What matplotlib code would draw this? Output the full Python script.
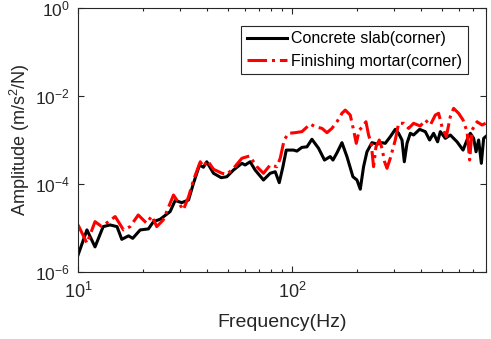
import numpy as np
import matplotlib
matplotlib.use("Agg")
import matplotlib.pyplot as plt
from matplotlib.ticker import LogLocator, NullLocator, LogFormatterMathtext

plt.rcParams['font.family'] = ['Liberation Sans', 'DejaVu Sans']
plt.rcParams['mathtext.fontset'] = 'custom'
plt.rcParams['mathtext.rm'] = 'Liberation Sans'
plt.rcParams['axes.unicode_minus'] = False

# Concrete slab (corner) - frequency (Hz) / amplitude (m/s^2/N)
slab_f = [10.0, 11.0, 12.0, 13.1, 14.1, 15.2, 16.0, 17.2, 18.0, 19.5, 21.3, 22.5,
          24.2, 26.9, 28.4, 30.5, 32.8, 34.6, 36.9, 38.5, 39.9, 42.9, 46.6, 49.5,
          53.2, 58.2, 60.3, 63.6, 67.1, 73.4, 78.9, 83.3, 87.0, 90.5, 93.8, 101.4,
          105.2, 111.0, 117.2, 123.6, 132.7, 141.5, 150.5, 155.0, 161.8, 170.7, 180.1,
          192.1, 200.6, 207.9, 215.4, 223.4, 235.7, 248.7, 262.5, 272.0, 287.1, 302.9,
          313.9, 325.6, 333.8, 343.6, 356.0, 368.8, 393.4, 418.3, 438.1, 457.3, 477.5,
          491.5, 518.8, 547.4, 588.4, 627.8, 659.6, 679.0, 703.5, 721.9, 742.4, 764.2,
          783.3, 800.0]
slab_a = [2.43e-6, 9.0e-6, 3.7e-6, 1.07e-5, 1.17e-5, 1.07e-5, 5.5e-6, 6.6e-6, 5.8e-6,
          9.0e-6, 9.5e-6, 1.39e-5, 1.58e-5, 2.35e-5, 4.2e-5, 3.76e-5, 4.33e-5, 1.04e-4,
          2.7e-4, 2.4e-4, 3.2e-4, 1.75e-4, 1.39e-4, 1.46e-4, 2.08e-4, 2.95e-4, 2.7e-4,
          3.2e-4, 2.08e-4, 1.23e-4, 1.75e-4, 1.9e-4, 1.07e-4, 2.47e-4, 5.9e-4, 5.9e-4,
          5.6e-4, 6.8e-4, 7.0e-4, 1.04e-3, 6.5e-4, 3.5e-4, 4.2e-4, 3.5e-4, 5.1e-4,
          8.7e-4, 4.2e-4, 1.46e-4, 1.23e-4, 7.6e-5, 2.47e-4, 5.4e-4, 8.7e-4, 8.1e-4,
          8.7e-4, 8.4e-4, 1.19e-3, 1.75e-3, 1.42e-3, 1.0e-3, 3.2e-4, 8.4e-4, 1.42e-3,
          1.3e-3, 1.75e-3, 1.55e-3, 1.0e-3, 1.42e-3, 9.1e-4, 1.55e-3, 1.09e-3, 1.3e-3,
          9.1e-4, 5.9e-4, 1.09e-3, 1.42e-3, 1.09e-3, 5.4e-4, 1.0e-3, 2.95e-4, 1.09e-3,
          1.19e-3]

# Finishing mortar (corner)
mortar_f = [10.0, 11.0, 12.0, 12.9, 14.9, 16.3, 17.5, 19.1, 20.9, 22.1, 23.3, 25.0,
            27.9, 28.9, 31.0, 32.8, 34.6, 37.2, 38.5, 40.2, 42.9, 47.0, 49.5, 53.2,
            58.2, 63.2, 68.4, 73.4, 78.9, 84.8, 87.9, 91.7, 96.1, 103.3, 111.0, 121.4,
            128.1, 137.7, 145.3, 153.3, 161.8, 170.7, 176.9, 186.6, 193.4, 199.1, 205.7,
            213.1, 221.0, 227.3, 233.9, 239.8, 246.1, 255.0, 262.5, 270.0, 277.1, 287.1,
            302.9, 313.9, 331.2, 349.6, 368.8, 396.3, 418.3, 441.5, 465.9, 482.7, 500.6,
            524.3, 547.4, 567.2, 598.5, 627.8, 655.4, 674.0, 691.6, 729.8, 769.9, 800.0]
mortar_a = [1.17e-5, 4.5e-6, 1.39e-5, 1.07e-5, 1.81e-5, 9.0e-6, 1.07e-5, 1.97e-5,
            1.28e-5, 1.87e-5, 1.07e-5, 1.52e-5, 5.6e-5, 4.33e-5, 2.57e-5, 5.1e-5,
            1.23e-4, 3.2e-4, 2.47e-4, 3.4e-4, 2.16e-4, 1.75e-4, 1.66e-4, 2.27e-4,
            3.84e-4, 4.33e-4, 2.47e-4, 1.75e-4, 2.7e-4, 2.47e-4, 3.84e-4, 1.0e-3,
            1.42e-3, 1.47e-3, 1.55e-3, 2.31e-3, 2.0e-3, 1.84e-3, 1.47e-3, 1.84e-3,
            2.6e-3, 4.05e-3, 4.8e-3, 3.7e-3, 1.69e-3, 8.4e-4, 1.69e-3, 2.0e-3, 2.6e-3,
            1.3e-3, 8.4e-4, 2.47e-4, 7.0e-4, 1.0e-3, 6.5e-4, 3.2e-4, 2.27e-4, 3.84e-4,
            1.0e-3, 2.4e-3, 2.4e-3, 1.84e-3, 2.4e-3, 2.08e-3, 2.85e-3, 2.19e-3, 3.7e-3,
            4.05e-3, 2.0e-3, 1.19e-3, 3.4e-3, 5.25e-3, 4.05e-3, 2.85e-3, 1.55e-3, 3.5e-4,
            1.69e-3, 2.6e-3, 2.19e-3, 2.4e-3]

dark = '#262626'

fig = plt.figure(figsize=(4.91, 3.39), dpi=100)
ax = fig.add_axes([0.159, 0.198, 0.830, 0.778])

ax.loglog(slab_f, slab_a, '-', color='black', lw=2.2, label='Concrete slab(corner)')
ax.loglog(mortar_f, mortar_a, '-.', color='red', lw=2.2, label='Finishing mortar(corner)')

ax.set_xlim(10, 800)
ax.set_ylim(1e-6, 1)
ax.yaxis.set_major_locator(LogLocator(base=100))
ax.yaxis.set_minor_locator(NullLocator())
ax.yaxis.set_major_formatter(LogFormatterMathtext(base=10))

ax.tick_params(which='both', direction='in', top=True, right=True, colors=dark,
               labelsize=13, width=0.8)
ax.tick_params(which='major', length=4)
ax.tick_params(which='minor', length=2.2)
ax.tick_params(axis='x', which='major', pad=7)
ax.tick_params(axis='y', which='major', pad=6, labelsize=12.5)
for s in ax.spines.values():
    s.set_color(dark)
    s.set_linewidth(0.8)

ax.set_xlabel('Frequency(Hz)', fontsize=14, color=dark)
ax.set_ylabel('Amplitude (m/s$^2$/N)', fontsize=13, color=dark)
ax.xaxis.set_label_coords(0.5, -0.16)
ax.yaxis.set_label_coords(-0.113, 0.5)

leg = ax.legend(loc='upper right', bbox_to_anchor=(0.957, 0.933), borderaxespad=0,
                fontsize=11.5, fancybox=False, framealpha=1, handlelength=2.5,
                handletextpad=0.3, borderpad=0.35, labelspacing=0.45)
leg.get_frame().set_edgecolor(dark)
leg.get_frame().set_linewidth(0.8)
for t in leg.get_texts():
    t.set_color('black')

fig.savefig('out.png', dpi=100)
